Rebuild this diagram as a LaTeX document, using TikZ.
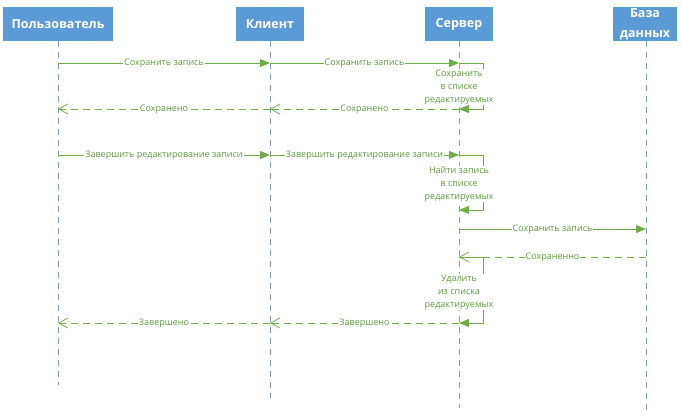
\documentclass[tikz,border=0pt]{standalone}
\usepackage{fontspec}
\setmainfont{Open Sans}
\usetikzlibrary{arrows.meta}
\definecolor{boxblue}{HTML}{5B9BD5}
\definecolor{msggreen}{HTML}{70AD47}
\definecolor{txtgreen}{HTML}{5E9A3E}
\definecolor{lifeblue}{HTML}{7F9DC8}
\begin{document}
\begin{tikzpicture}[x=1pt,y=-1pt,
  actor/.style={fill=boxblue, text=white, font=\bfseries\fontsize{12.5}{14}\selectfont,
    minimum height=34pt, inner sep=1pt, align=center},
  lifeline/.style={draw=lifeblue, line width=0.8pt, dash pattern=on 6pt off 5pt},
  msg/.style={draw=msggreen, line width=0.8pt, -{Triangle[length=10pt,width=8pt]}},
  reply/.style={draw=msggreen, line width=0.8pt, dash pattern=on 7pt off 5pt,
    -{Straight Barb[length=9pt,width=10pt]}},
  lbl/.style={fill=white, text=txtgreen, inner sep=1pt, font=\fontsize{9}{10}\selectfont},
  looplbl/.style={fill=white, text=txtgreen, inner sep=0.5pt, align=center,
    font=\fontsize{9}{13}\selectfont, anchor=north}]
\useasboundingbox (0,0) rectangle (682,419);

% actors
\node[actor, minimum width=110pt] (p) at (58,24) {Пользователь};
\node[actor, minimum width=68pt] (c) at (270,24) {Клиент};
\node[actor, minimum width=68pt] (s) at (459,24) {Сервер};
\node[actor, minimum width=64pt, font=\bfseries\fontsize{12.5}{20}\selectfont] (d) at (645,24) {База\\данных};

% lifeline ends
\coordinate (pE) at (58,385);
\coordinate (cE) at (270,398);
\coordinate (sE) at (459,408);
\coordinate (dE) at (646,410);
\draw[lifeline] (58,41) -- (pE);
\draw[lifeline] (270,41) -- (cE);
\draw[lifeline] (459,41) -- (sE);
\draw[lifeline] (646,41) -- (dE);

% message points
\coordinate (p1) at (58,63);  \coordinate (c1) at (270,63);  \coordinate (s1) at (459,63);
\coordinate (s1r) at (483,63); \coordinate (s2r) at (483,109);
\coordinate (s2) at (459,109); \coordinate (c2) at (270,109); \coordinate (p2) at (58,109);
\coordinate (p3) at (58,155); \coordinate (c3) at (270,155); \coordinate (s3) at (459,155);
\coordinate (s3r) at (483,155); \coordinate (s4r) at (483,210); \coordinate (s4) at (459,210);
\coordinate (s5) at (459,229); \coordinate (d5) at (646,229);
\coordinate (d6) at (646,257); \coordinate (s6) at (459,257);
\coordinate (s6r) at (483,257); \coordinate (s7r) at (483,323);
\coordinate (s7) at (459,323); \coordinate (c7) at (270,323); \coordinate (p7) at (58,323);

% messages
\draw[msg] (p1) -- node[lbl] (m1) {Сохранить запись} (c1);
\draw[msg] (c1) -- node[lbl] (m2) {Сохранить запись} (s1);
\draw[msg] (s1) -- (s1r) -- (s2r) -- (s2);
\node[looplbl] (l1) at (459,69) {Сохранить\\в списке\\редактируемых};
\draw[reply] (s2) -- node[lbl] (m3) {Сохранено} (c2);
\draw[reply] (c2) -- node[lbl] (m4) {Сохранено} (p2);

\draw[msg] (p3) -- node[lbl] (m5) {Завершить редактирование записи} (c3);
\draw[msg] (c3) -- node[lbl] (m6) {Завершить редактирование записи} (s3);
\draw[msg] (s3) -- (s3r) -- (s4r) -- (s4);
\node[looplbl] (l2) at (459,166) {Найти запись\\в списке\\редактируемых};

\draw[msg] (s5) -- node[lbl] (m7) {Сохранить запись} (d5);
\draw[msg] (s6) -- (s6r) -- (s7r) -- (s7);
\draw[reply] (d6) -- node[lbl] (m8) {Сохраненно} (s6);
\node[looplbl] (l3) at (459,274) {Удалить\\из списка\\редактируемых};

\draw[reply] (s7) -- node[lbl] (m9) {Завершено} (c7);
\draw[reply] (c7) -- node[lbl] (m10) {Завершено} (p7);
\end{tikzpicture}
\end{document}
